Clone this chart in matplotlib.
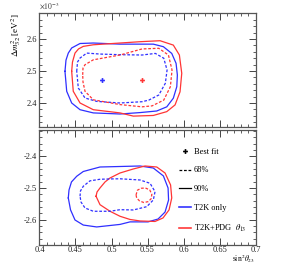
import matplotlib
matplotlib.use("Agg")
import matplotlib.pyplot as plt
from matplotlib.lines import Line2D
from matplotlib.ticker import MultipleLocator, FormatStrFormatter

plt.rcParams['font.family'] = ['Liberation Serif', 'DejaVu Serif']
plt.rcParams['mathtext.fontset'] = 'stix'

BLUE = '#2f2fff'
RED = '#ff3535'

# ---- normal ordering (top), dm2 in 1e-3 eV^2 ----
no_blue90_x = [0.4354, 0.4368, 0.4400, 0.4447, 0.4563, 0.4747, 0.5118, 0.5396, 0.558, 0.572,
               0.5836, 0.5896, 0.5914, 0.5906, 0.5858, 0.5767, 0.5628, 0.5396, 0.5118, 0.4747,
               0.4563, 0.4447, 0.4378]
no_blue90_y = [2.499, 2.534, 2.556, 2.572, 2.586, 2.5875, 2.584, 2.584, 2.584, 2.576,
               2.555, 2.524, 2.4875, 2.451, 2.415, 2.388, 2.375, 2.370, 2.3656, 2.369,
               2.379, 2.400, 2.4366]
no_red90_x = [0.4447, 0.4458, 0.4493, 0.4542, 0.4608, 0.4747, 0.5118, 0.5396, 0.5674, 0.5858,
              0.5942, 0.5975, 0.5951, 0.5882, 0.5767, 0.558, 0.5303, 0.5118, 0.4747, 0.4563,
              0.4469]
no_red90_y = [2.499, 2.528, 2.556, 2.569, 2.577, 2.582, 2.5875, 2.5916, 2.5947, 2.581,
              2.550, 2.4928, 2.435, 2.394, 2.373, 2.361, 2.359, 2.369, 2.379, 2.400,
              2.4366]
no_blue68_x = [0.4517, 0.4528, 0.4563, 0.4656, 0.484, 0.5118, 0.5424, 0.5608, 0.5725, 0.5771,
               0.5747, 0.5656, 0.5517, 0.5424, 0.5118, 0.4794, 0.4632, 0.4539]
no_blue68_y = [2.499, 2.528, 2.5406, 2.556, 2.553, 2.551, 2.550, 2.555, 2.540, 2.503,
               2.4616, 2.425, 2.409, 2.404, 2.400, 2.405, 2.4156, 2.447]
no_red68_x = [0.4600, 0.4604, 0.4632, 0.4747, 0.5118, 0.5424, 0.5656, 0.579, 0.584, 0.5817,
              0.5725, 0.5563, 0.5424, 0.5118, 0.4747, 0.4632, 0.4604]
no_red68_y = [2.488, 2.509, 2.5197, 2.535, 2.550, 2.569, 2.571, 2.550, 2.503, 2.451,
              2.409, 2.391, 2.388, 2.395, 2.410, 2.4366, 2.466]
no_best_x = [0.4872, 0.542]
no_best_y = [2.473, 2.472]

# ---- inverted ordering (bottom) ----
io_blue90_x = [0.440, 0.441, 0.4444, 0.4517, 0.4608, 0.4701, 0.484, 0.5118, 0.5396, 0.558,
               0.572, 0.5785, 0.5792, 0.5743, 0.5646, 0.5507, 0.5257, 0.5118, 0.4794, 0.4608,
               0.4493, 0.4431]
io_blue90_y = [-2.5315, -2.5063, -2.481, -2.463, -2.448, -2.4423, -2.4338, -2.4322, -2.4306, -2.437,
               -2.462, -2.500, -2.538, -2.576, -2.598, -2.607, -2.607, -2.615, -2.623, -2.617,
               -2.601, -2.569]
io_red90_x = [0.4785, 0.4799, 0.484, 0.491, 0.4979, 0.5118, 0.5303, 0.5465, 0.5628, 0.5743,
              0.582, 0.5836, 0.5799, 0.5715, 0.5604, 0.5396, 0.5257, 0.5118, 0.4979, 0.484]
io_red90_y = [-2.526, -2.5126, -2.500, -2.481, -2.4685, -2.4527, -2.440, -2.4306, -2.4338, -2.4527,
              -2.4905, -2.5315, -2.569, -2.5946, -2.6057, -2.6041, -2.5994, -2.5893, -2.5735, -2.5527]
io_blue68_x = [0.4563, 0.4569, 0.4608, 0.4701, 0.484, 0.4979, 0.5118, 0.5396, 0.5535, 0.5604,
               0.558, 0.5489, 0.5303, 0.5118, 0.4979, 0.4747, 0.4632, 0.4576]
io_blue68_y = [-2.526, -2.5095, -2.4946, -2.4775, -2.4725, -2.4715, -2.471, -2.4748, -2.4852, -2.5117,
               -2.5379, -2.559, -2.5694, -2.5685, -2.5735, -2.5735, -2.5631, -2.5442]
io_red68_x = [0.534, 0.536, 0.541, 0.547, 0.553, 0.556, 0.555, 0.551, 0.545, 0.539, 0.535]
io_red68_y = [-2.522, -2.507, -2.501, -2.500, -2.506, -2.520, -2.534, -2.543, -2.546, -2.541, -2.532]

legend_labels = ['Best fit', '68%', '90%', 'T2K only', r'T2K+PDG  $\theta_{13}$']


def closed(xs, ys):
    return list(xs) + [xs[0]], list(ys) + [ys[0]]


def style(ax, ymaj, ymin):
    ax.set_xlim(0.4, 0.7)
    ax.xaxis.set_major_locator(MultipleLocator(0.05))
    ax.xaxis.set_minor_locator(MultipleLocator(0.01))
    ax.yaxis.set_major_locator(MultipleLocator(ymaj))
    ax.yaxis.set_minor_locator(MultipleLocator(ymin))
    ax.xaxis.set_major_formatter(FormatStrFormatter('%g'))
    ax.yaxis.set_major_formatter(FormatStrFormatter('%g'))
    ax.tick_params(which='both', direction='in', top=True, right=True,
                   labelsize=6, colors='#444444', labelcolor='#222222', pad=2)
    ax.tick_params(which='major', length=5, width=0.7)
    ax.tick_params(which='minor', length=2.5, width=0.6)
    for s in ax.spines.values():
        s.set_color('#555555')
        s.set_linewidth(0.9)


fig = plt.figure(figsize=(2.84, 2.66), dpi=100)
ax1 = fig.add_axes([0.139, 0.5207, 0.761, 0.430])
ax2 = fig.add_axes([0.139, 0.0801, 0.761, 0.4293])

lw = 0.9
dash = (0, (2.2, 1.4))

# top panel
for xs, ys, c, ls in [(no_blue90_x, no_blue90_y, BLUE, '-'),
                      (no_red90_x, no_red90_y, RED, '-'),
                      (no_blue68_x, no_blue68_y, BLUE, dash),
                      (no_red68_x, no_red68_y, RED, dash)]:
    cx, cy = closed(xs, ys)
    ax1.plot(cx, cy, color=c, lw=lw, linestyle=ls, solid_joinstyle='round')
ax1.plot(no_best_x[0], no_best_y[0], marker='P', color=BLUE, ms=3.5, mew=0)
ax1.plot(no_best_x[1], no_best_y[1], marker='P', color=RED, ms=3.5, mew=0)
style(ax1, 0.1, 0.02)
ax1.set_ylim(2.3234, 2.681)
ax1.tick_params(labelbottom=False)

# bottom panel
for xs, ys, c, ls in [(io_blue90_x, io_blue90_y, BLUE, '-'),
                      (io_red90_x, io_red90_y, RED, '-'),
                      (io_blue68_x, io_blue68_y, BLUE, dash),
                      (io_red68_x, io_red68_y, RED, dash)]:
    cx, cy = closed(xs, ys)
    ax2.plot(cx, cy, color=c, lw=lw, linestyle=ls, solid_joinstyle='round')
style(ax2, 0.1, 0.02)
ax2.set_ylim(-2.679, -2.3186)
ax2.tick_params(axis='x', pad=1)

handles = [Line2D([], [], color='black', marker='P', ms=3.5, mew=0, linestyle='none'),
           Line2D([], [], color='black', lw=lw, linestyle=dash),
           Line2D([], [], color='black', lw=lw),
           Line2D([], [], color=BLUE, lw=lw * 1.3),
           Line2D([], [], color=RED, lw=lw * 1.3)]
ax2.legend(handles, legend_labels, loc='upper left', bbox_to_anchor=(0.644, 0.85),
           frameon=False, fontsize=6, handlelength=1.5, handletextpad=0.35,
           labelspacing=1.3, borderpad=0, borderaxespad=0)

fig.text(0.055, 0.951, r'$\Delta m^2_{32}$ [eV$^2$]', rotation=90, ha='center', va='top',
         fontsize=6.5)
fig.text(0.139, 0.978, r'$\times10^{-3}$', ha='left', va='center', fontsize=5.5, color='#333333')
fig.text(0.897, 0.002, r'sin$^2\theta_{23}$', ha='right', va='bottom', fontsize=5.5)

fig.savefig('out.png', dpi=100)
